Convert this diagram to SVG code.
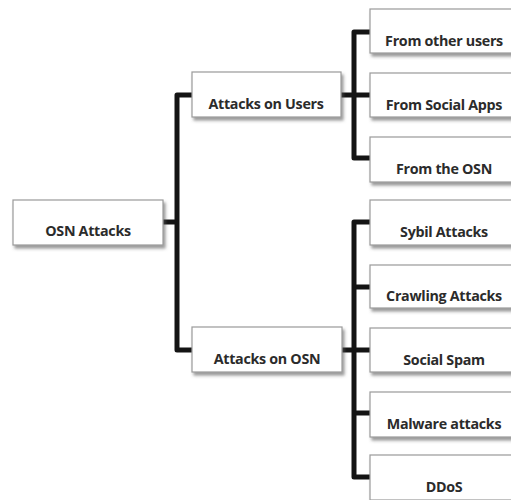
<svg xmlns="http://www.w3.org/2000/svg" width="511" height="500" viewBox="0 0 511 500">
<defs>
<filter id="sh" x="-10%" y="-20%" width="130%" height="160%">
<feDropShadow dx="2" dy="3" stdDeviation="1.8" flood-color="#555" flood-opacity="0.6"/>
</filter>
<style>
.box{fill:#fff;stroke:#9a9a9a;stroke-width:1.2;filter:url(#sh)}
.lbl{font-family:"Open Sans","Liberation Sans",sans-serif;font-weight:bold;font-size:14.3px;letter-spacing:-0.3px;fill:#2b2b2b;text-anchor:middle}
.c{fill:none;stroke:#141414;stroke-width:5;stroke-linejoin:round;stroke-linecap:butt}
</style>
</defs>
<rect width="511" height="500" fill="#fff"/>
<g id="connectors">
<path class="c" d="M163,222 H177 M192,95 H177 V350 H192"/>
<path class="c" d="M341,95 H354 M370,32 H354 V158 H370 M354,95 H370"/>
<path class="c" d="M342,350 H354 M370,222 H354 V477 H370 M354,287 H370 M354,350 H370 M354,413 H370"/>
</g>
<g id="osn-attacks"><rect class="box" x="13" y="200" width="150" height="45"/><text class="lbl" x="88" y="236">OSN Attacks</text></g>
<g id="attacks-on-users"><rect class="box" x="192" y="72" width="149" height="45"/><text class="lbl" x="266" y="109">Attacks on Users</text></g>
<g id="attacks-on-osn"><rect class="box" x="192" y="327" width="150" height="45"/><text class="lbl" x="267" y="364">Attacks on OSN</text></g>
<g id="from-other-users"><rect class="box" x="370" y="9" width="150" height="44"/><text class="lbl" x="444" y="46">From other users</text></g>
<g id="from-social-apps"><rect class="box" x="370" y="73" width="150" height="44"/><text class="lbl" x="444" y="110">From Social Apps</text></g>
<g id="from-the-osn"><rect class="box" x="370" y="137" width="150" height="45"/><text class="lbl" x="444" y="174">From the OSN</text></g>
<g id="sybil-attacks"><rect class="box" x="370" y="200" width="150" height="45"/><text class="lbl" x="444" y="237">Sybil Attacks</text></g>
<g id="crawling-attacks"><rect class="box" x="370" y="265" width="150" height="43"/><text class="lbl" x="444" y="301">Crawling Attacks</text></g>
<g id="social-spam"><rect class="box" x="370" y="328" width="150" height="44"/><text class="lbl" x="444" y="365">Social Spam</text></g>
<g id="malware-attacks"><rect class="box" x="370" y="392" width="150" height="45"/><text class="lbl" x="444" y="429">Malware attacks</text></g>
<g id="ddos"><rect class="box" x="370" y="455" width="150" height="45"/><text class="lbl" x="444" y="492">DDoS</text></g>
</svg>
